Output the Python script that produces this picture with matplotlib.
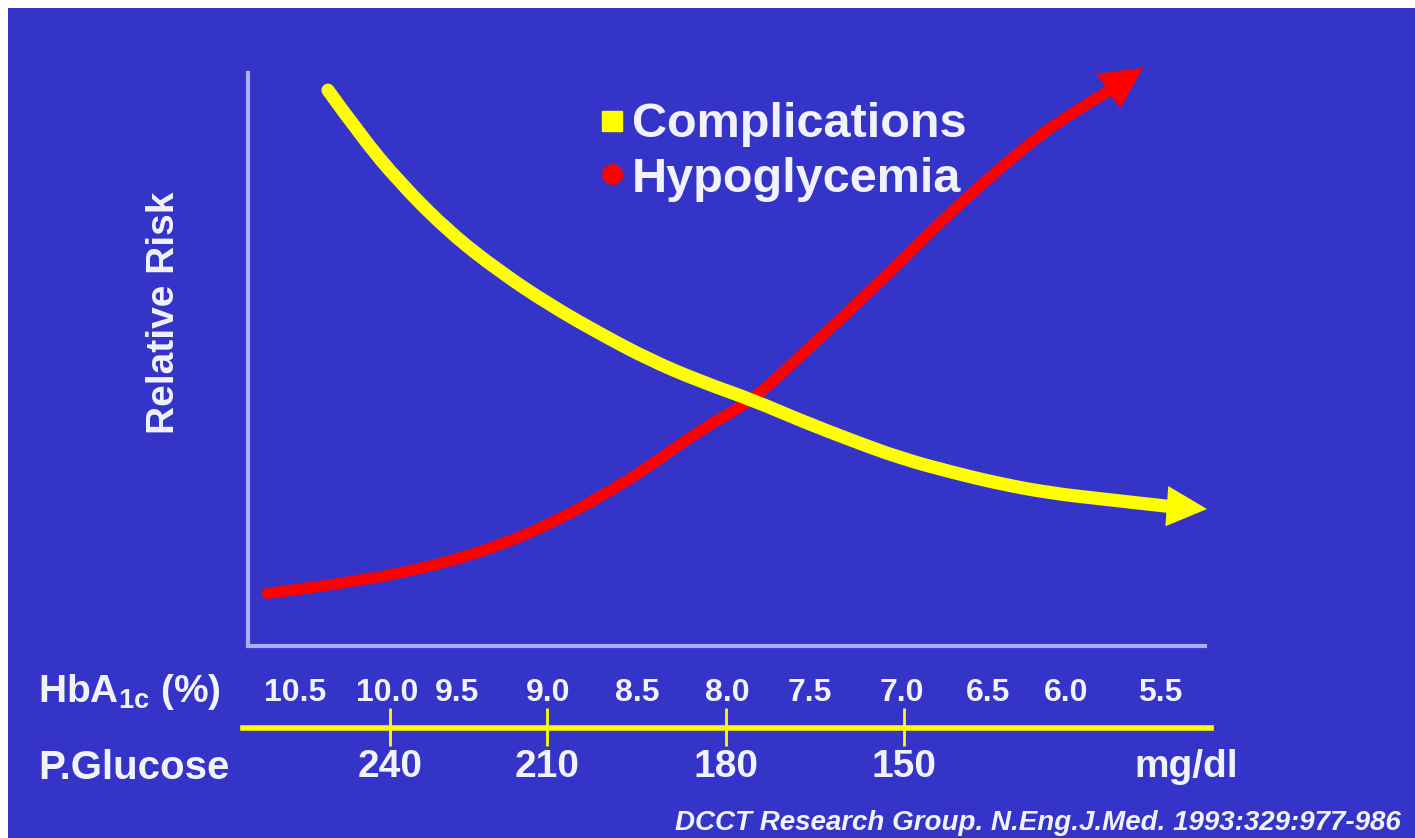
import matplotlib
matplotlib.use("Agg")
import matplotlib.pyplot as plt
import matplotlib.transforms as mtransforms
from matplotlib.patches import Rectangle, PathPatch
from matplotlib.lines import Line2D
from matplotlib.path import Path

# scale position along the x axis (same units as the HbA1c / glucose scale)
compl_x = [328, 360, 400, 450, 500, 550, 600, 650, 700, 753, 800, 850, 900, 950, 1000, 1050, 1100, 1167]
compl_risk = [97.0, 89.2, 80.8, 72.1, 65.3, 59.5, 54.5, 49.9, 46.2, 42.9, 39.4, 36.0, 32.8, 30.4, 28.3, 26.7, 25.7, 24.4]
compl_tip = (1207, 23.9)

hypo_x = [267, 300, 350, 400, 450, 500, 550, 600, 650, 700, 753, 800, 850, 900, 950, 1000, 1050, 1110]
hypo_risk = [9.2, 9.9, 11.2, 12.7, 14.8, 17.6, 21.3, 26.0, 31.4, 37.7, 42.9, 50.6, 58.6, 67.0, 75.6, 83.4, 90.6, 97.0]
hypo_tip = (1143, 100.9)

hba1c_labels = ["10.5", "10.0", "9.5", "9.0", "8.5", "8.0", "7.5", "7.0", "6.5", "6.0", "5.5"]
hba1c_pos = [295, 387, 457, 548, 637, 727, 810, 902, 988, 1066, 1160]

glucose_labels = ["240", "210", "180", "150"]
glucose_pos = [390, 547, 726, 904]

BG = "#3434C9"
TXT = "#F2F2FF"
YEL = "#FFFF00"
RED = "#FF0000"
AXC = "#ADADFA"

W, H = 1415, 838


def fx(px):
    return px / W


def fy(py):
    return 1 - py / H


def smooth(xs, ys):
    # quadratic spline: read points as control points, midpoints on the curve
    verts = [(xs[0], ys[0])]
    codes = [Path.MOVETO]
    for i in range(1, len(xs) - 1):
        verts += [(xs[i], ys[i]), ((xs[i] + xs[i + 1]) / 2, (ys[i] + ys[i + 1]) / 2)]
        codes += [Path.CURVE3, Path.CURVE3]
    verts.append((xs[-1], ys[-1]))
    codes.append(Path.LINETO)
    return Path(verts, codes)


plt.rcParams["font.family"] = ["Liberation Sans", "DejaVu Sans"]
plt.rcParams["font.weight"] = "bold"
plt.rcParams["mathtext.fontset"] = "custom"
plt.rcParams["mathtext.rm"] = "Liberation Sans:bold"
plt.rcParams["mathtext.bf"] = "Liberation Sans:bold"

fig = plt.figure(figsize=(W / 100, H / 100), dpi=100, facecolor="white")
fig.add_artist(Rectangle((fx(8), 0), 1, fy(8), transform=fig.transFigure,
                         facecolor=BG, edgecolor="none", zorder=-10))

ax = fig.add_axes([fx(248), fy(646), fx(1210) - fx(248), fy(73) - fy(646)])
ax.patch.set_visible(False)
ax.set_xlim(248, 1210)
ax.set_ylim(0, 100)
ax.set_xticks([])
ax.set_yticks([])
for s in ["top", "right"]:
    ax.spines[s].set_visible(False)
for s in ["left", "bottom"]:
    ax.spines[s].set_color(AXC)
    ax.spines[s].set_linewidth(3)
ax.spines["bottom"].set_bounds(248, 1205)

# curves
ax.add_patch(PathPatch(smooth(compl_x, compl_risk), facecolor="none", edgecolor=YEL, lw=9.5,
                       capstyle="round", clip_on=False, zorder=3))
ax.annotate("", xy=compl_tip, xytext=(compl_x[-1], compl_risk[-1]), annotation_clip=False,
            arrowprops=dict(arrowstyle="-|>,head_length=1.0,head_width=0.5", color=YEL,
                            lw=0, shrinkA=0, shrinkB=0, mutation_scale=29), zorder=3)
ax.add_patch(PathPatch(smooth(hypo_x, hypo_risk), facecolor="none", edgecolor=RED, lw=8,
                       capstyle="round", clip_on=False, zorder=2))
ax.annotate("", xy=hypo_tip, xytext=(hypo_x[-1], hypo_risk[-1]), annotation_clip=False,
            arrowprops=dict(arrowstyle="-|>,head_length=1.0,head_width=0.5", color=RED,
                            lw=0, shrinkA=0, shrinkB=0, mutation_scale=30), zorder=2)

fig.text(fx(164), fy(313), "Relative Risk", rotation=90, ha="center", va="center",
         fontsize=28, color=TXT)

# legend
fig.add_artist(Line2D([fx(612)], [fy(121)], marker="s", ms=14, color=YEL, lw=0,
                      transform=fig.transFigure))
fig.add_artist(Line2D([fx(612)], [fy(174)], marker="o", ms=14, color=RED, lw=0,
                      transform=fig.transFigure))
fig.text(fx(632), fy(137), "Complications", fontsize=35, color=TXT, va="baseline")
fig.text(fx(632), fy(192), "Hypoglycemia", fontsize=35, color=TXT, va="baseline")

# dual scale below the axis
trans = mtransforms.blended_transform_factory(ax.transData, fig.transFigure)
ax.plot([243, 1211], [fy(728), fy(728)], color=YEL, lw=4, transform=trans, clip_on=False)
ax.vlines(glucose_pos, fy(746), fy(708), color=YEL, lw=2, transform=trans, clip_on=False)
for x, lab in zip(hba1c_pos, hba1c_labels):
    ax.text(x, fy(693), lab, transform=trans, ha="center", va="center", fontsize=23, color=TXT)
for x, lab in zip(glucose_pos, glucose_labels):
    ax.text(x, fy(767), lab, transform=trans, ha="center", va="center", fontsize=28, color=TXT)
ax.text(1186, fy(767), "mg/dl", transform=trans, ha="center", va="center", fontsize=28, color=TXT)

fig.text(fx(38), fy(692), r"HbA$_{\mathrm{1c}}$ (%)", ha="left", va="center", fontsize=28, color=TXT)
fig.text(fx(38), fy(768), "P.Glucose", ha="left", va="center", fontsize=29, color=TXT)

fig.text(fx(675), fy(823), "DCCT Research Group. N.Eng.J.Med. 1993:329:977-986",
         ha="left", va="center", fontsize=20, style="italic", color=TXT)

fig.savefig("out.png", dpi=100, facecolor=fig.get_facecolor())
plt.close("all")
